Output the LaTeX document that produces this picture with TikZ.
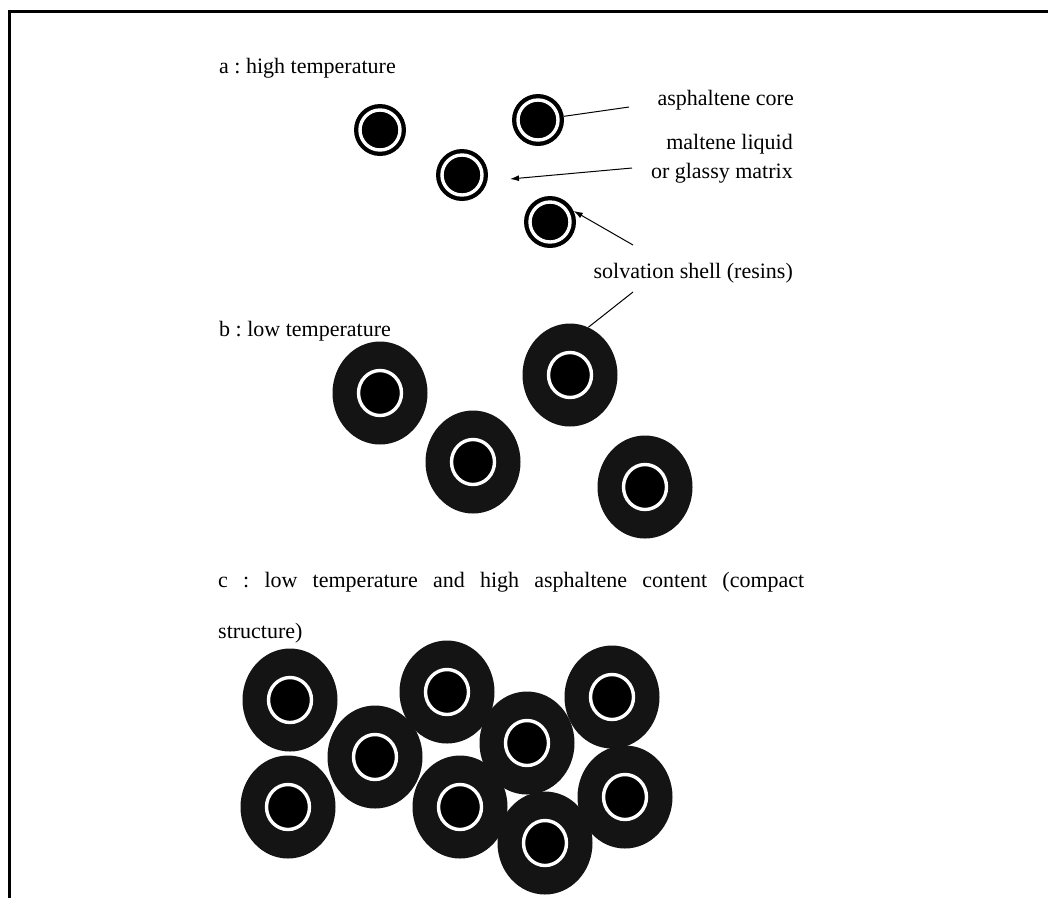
\documentclass[tikz,border=0pt]{standalone}
\usepackage{fontspec}
\setmainfont{Liberation Serif}
\usetikzlibrary{arrows.meta, positioning, shapes.geometric}
\frenchspacing

\begin{document}
\begin{tikzpicture}[x=1pt, y=-1pt,
            txt/.style={font=\fontsize{22}{29}\selectfont, inner sep=0pt},
            thinshell/.style={circle, fill=black, minimum size=52pt, inner sep=0pt,
                path picture={\draw[white, line width=3.4pt, fill=black] (path picture bounding box.center) circle (20pt);}},
            thickshell/.style={ellipse, fill=black!92, minimum width=95pt, minimum height=103pt, inner sep=0pt,
                path picture={\draw[white, line width=3.4pt, fill=black] (path picture bounding box.center) ellipse (21.5pt and 22.5pt);}},
            pointer/.style={line width=1pt},
            tip/.style={-{Latex[length=9pt, width=6pt]}}]

            \useasboundingbox (0,0) rectangle (1048,898);

            % Frame - open at the bottom
            \draw[line width=3pt] (1048,11) -- (9,11) -- (9,898);

            % Captions of the three states
            \node[txt, anchor=base west] (capa) at (219,73) {a : high temperature};
            \node[txt, anchor=base west] (capb) at (219,336) {b : low temperature};
            \node[txt, anchor=base west] (capc) at (218,587) {\makebox[586pt][s]{c : low temperature and high asphaltene content (compact}};
            \node[txt, anchor=base west] (capc2) at (218,638) {structure)};

            % Legend texts on the right
            \node[txt, anchor=base east] (corelbl) at (794,105) {asphaltene core};
            \node[txt, anchor=base east, align=right] (matrixlbl) at (793,178) {maltene liquid\\or glassy matrix};
            \node[txt, anchor=base east] (shelllbl) at (793,278) {solvation shell (resins)};

            % a : thin solvation shells
            \node[thinshell] (a1) at (380,130) {};
            \node[thinshell] (a2) at (462,175) {};
            \node[thinshell] (a3) at (538,120) {};
            \node[thinshell] (a4) at (550,222) {};

            % b : thick solvation shells
            \node[thickshell] (b1) at (380,393) {};
            \node[thickshell] (b2) at (473,462) {};
            \node[thickshell] (b3) at (570,375) {};
            \node[thickshell] (b4) at (645,487) {};

            % c : compact structure
            \node[thickshell] (c1) at (290,700) {};
            \node[thickshell] (c2) at (375,757) {};
            \node[thickshell] (c3) at (447,692) {};
            \node[thickshell] (c4) at (527,743) {};
            \node[thickshell] (c5) at (612,697) {};
            \node[thickshell] (c6) at (288,807) {};
            \node[thickshell] (c7) at (460,807) {};
            \node[thickshell] (c8) at (545,843) {};
            \node[thickshell] (c9) at (625,797) {};

            % Pointers from the legend
            \coordinate (coreend) at (629,107);
            \coordinate (matrixtail) at (632,168);
            \coordinate (matrixtip) at (510,179);
            \coordinate (shelltail) at (633,245);
            \coordinate (shelltail2) at (633,292);

            \draw[pointer] (a3) -- (coreend);
            \draw[pointer, tip] (matrixtail) -- (matrixtip);
            \draw[pointer, tip] (shelltail) -- (a4.25);
            \draw[pointer] (shelltail2) -- (b3.69);
        \end{tikzpicture}
\end{document}
